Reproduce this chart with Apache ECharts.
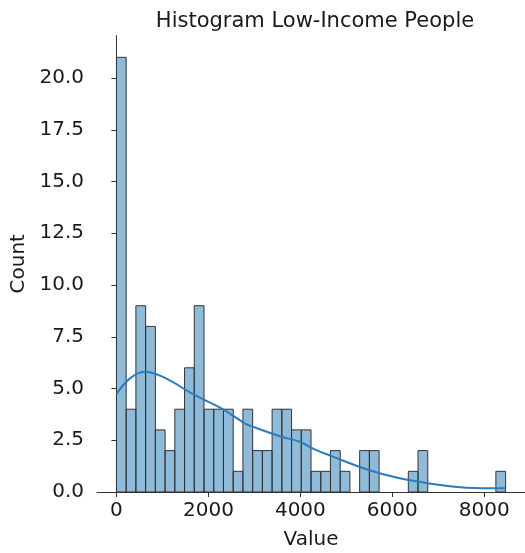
<!DOCTYPE html>
<html>
<head>
<meta charset="utf-8">
<script src="https://cdn.jsdelivr.net/npm/echarts@6/dist/echarts.min.js"></script>
<style>html,body{margin:0;padding:0;background:#fff;}#c{width:525px;height:553px;}</style>
</head>
<body>
<div id="c"></div>
<script>
// Histogram bins (40 equal bins from binStart, width binWidth)
const binStart = 0;
const binWidth = 211.6;
const binCounts = [21, 4, 9, 8, 3, 2, 4, 6, 9, 4,
                   4, 4, 1, 4, 2, 2, 4, 4, 3, 3,
                   1, 1, 2, 1, 0, 2, 2, 0, 0, 0,
                   1, 2, 0, 0, 0, 0, 0, 0, 0, 1];
// KDE curve
const kdeX = [0, 300, 615, 1000, 1700, 2283, 2790, 2957, 3587, 3986, 4311, 4709, 5435, 6159, 6883, 7609, 8460];
const kdeY = [4.73, 5.5, 5.81, 5.57, 4.69, 4.04, 3.32, 3.16, 2.67, 2.43, 2.06, 1.71, 1.10, 0.66, 0.39, 0.21, 0.18];
const xTicks = [0, 2000, 4000, 6000, 8000];
const yTicks = [0, 2.5, 5, 7.5, 10, 12.5, 15, 17.5, 20];

const barData = binCounts.map((c, i) => [binStart + i * binWidth, binStart + (i + 1) * binWidth, c]);
const kdeData = kdeX.map((x, i) => [x, kdeY[i]]);

const FONT = 'DejaVu Sans';
const chart = echarts.init(document.getElementById('c'), null, {renderer: 'canvas'});
chart.setOption({
  animation: false,
  backgroundColor: '#fff',
  title: {
    text: 'Histogram Low-Income People',
    left: 310, top: 6, textAlign: 'center',
    textStyle: {fontFamily: FONT, fontSize: 21, fontWeight: 'normal', color: '#1a1a1a'}
  },
  grid: {left: 97, right: 0, top: 35.6, bottom: 61, containLabel: false, outerBoundsMode: 'none'},
  xAxis: {
    type: 'value', min: -423, max: 8886,
    name: 'Value', nameLocation: 'middle', nameGap: 38,
    nameTextStyle: {fontFamily: FONT, fontSize: 20, color: '#1a1a1a'},
    axisLine: {show: true, lineStyle: {color: '#333', width: 1}},
    axisTick: {show: true, length: 5, customValues: xTicks, lineStyle: {color: '#333'}},
    axisLabel: {customValues: xTicks, formatter: v => String(v), fontFamily: FONT, fontSize: 20, color: '#1a1a1a', margin: 9},
    splitLine: {show: false}
  },
  yAxis: {
    type: 'value', min: 0, max: 22.05,
    name: 'Count', nameLocation: 'middle', nameGap: 68, nameRotate: 90,
    nameTextStyle: {fontFamily: FONT, fontSize: 20, color: '#1a1a1a'},
    axisLine: {show: true, lineStyle: {color: '#333', width: 1}},
    axisTick: {show: true, length: 5, customValues: yTicks, lineStyle: {color: '#333'}},
    axisLabel: {customValues: yTicks, formatter: v => v.toFixed(1), fontFamily: FONT, fontSize: 20, color: '#1a1a1a', margin: 13},
    splitLine: {show: false}
  },
  series: [
    {
      type: 'custom',
      data: barData,
      renderItem: function (params, api) {
        const p0 = api.coord([api.value(0), 0]);
        const p1 = api.coord([api.value(1), api.value(2)]);
        if (api.value(2) <= 0) return null;
        return {
          type: 'rect',
          shape: {x: p0[0], y: p1[1], width: p1[0] - p0[0], height: p0[1] - p1[1]},
          style: {fill: 'rgba(31,119,180,0.5)', stroke: '#333', lineWidth: 1}
        };
      },
      z: 2
    },
    {
      type: 'line',
      data: kdeData,
      smooth: 0.4,
      showSymbol: false,
      lineStyle: {color: '#2b7bbf', width: 2},
      z: 3
    }
  ]
});
</script>
</body>
</html>
